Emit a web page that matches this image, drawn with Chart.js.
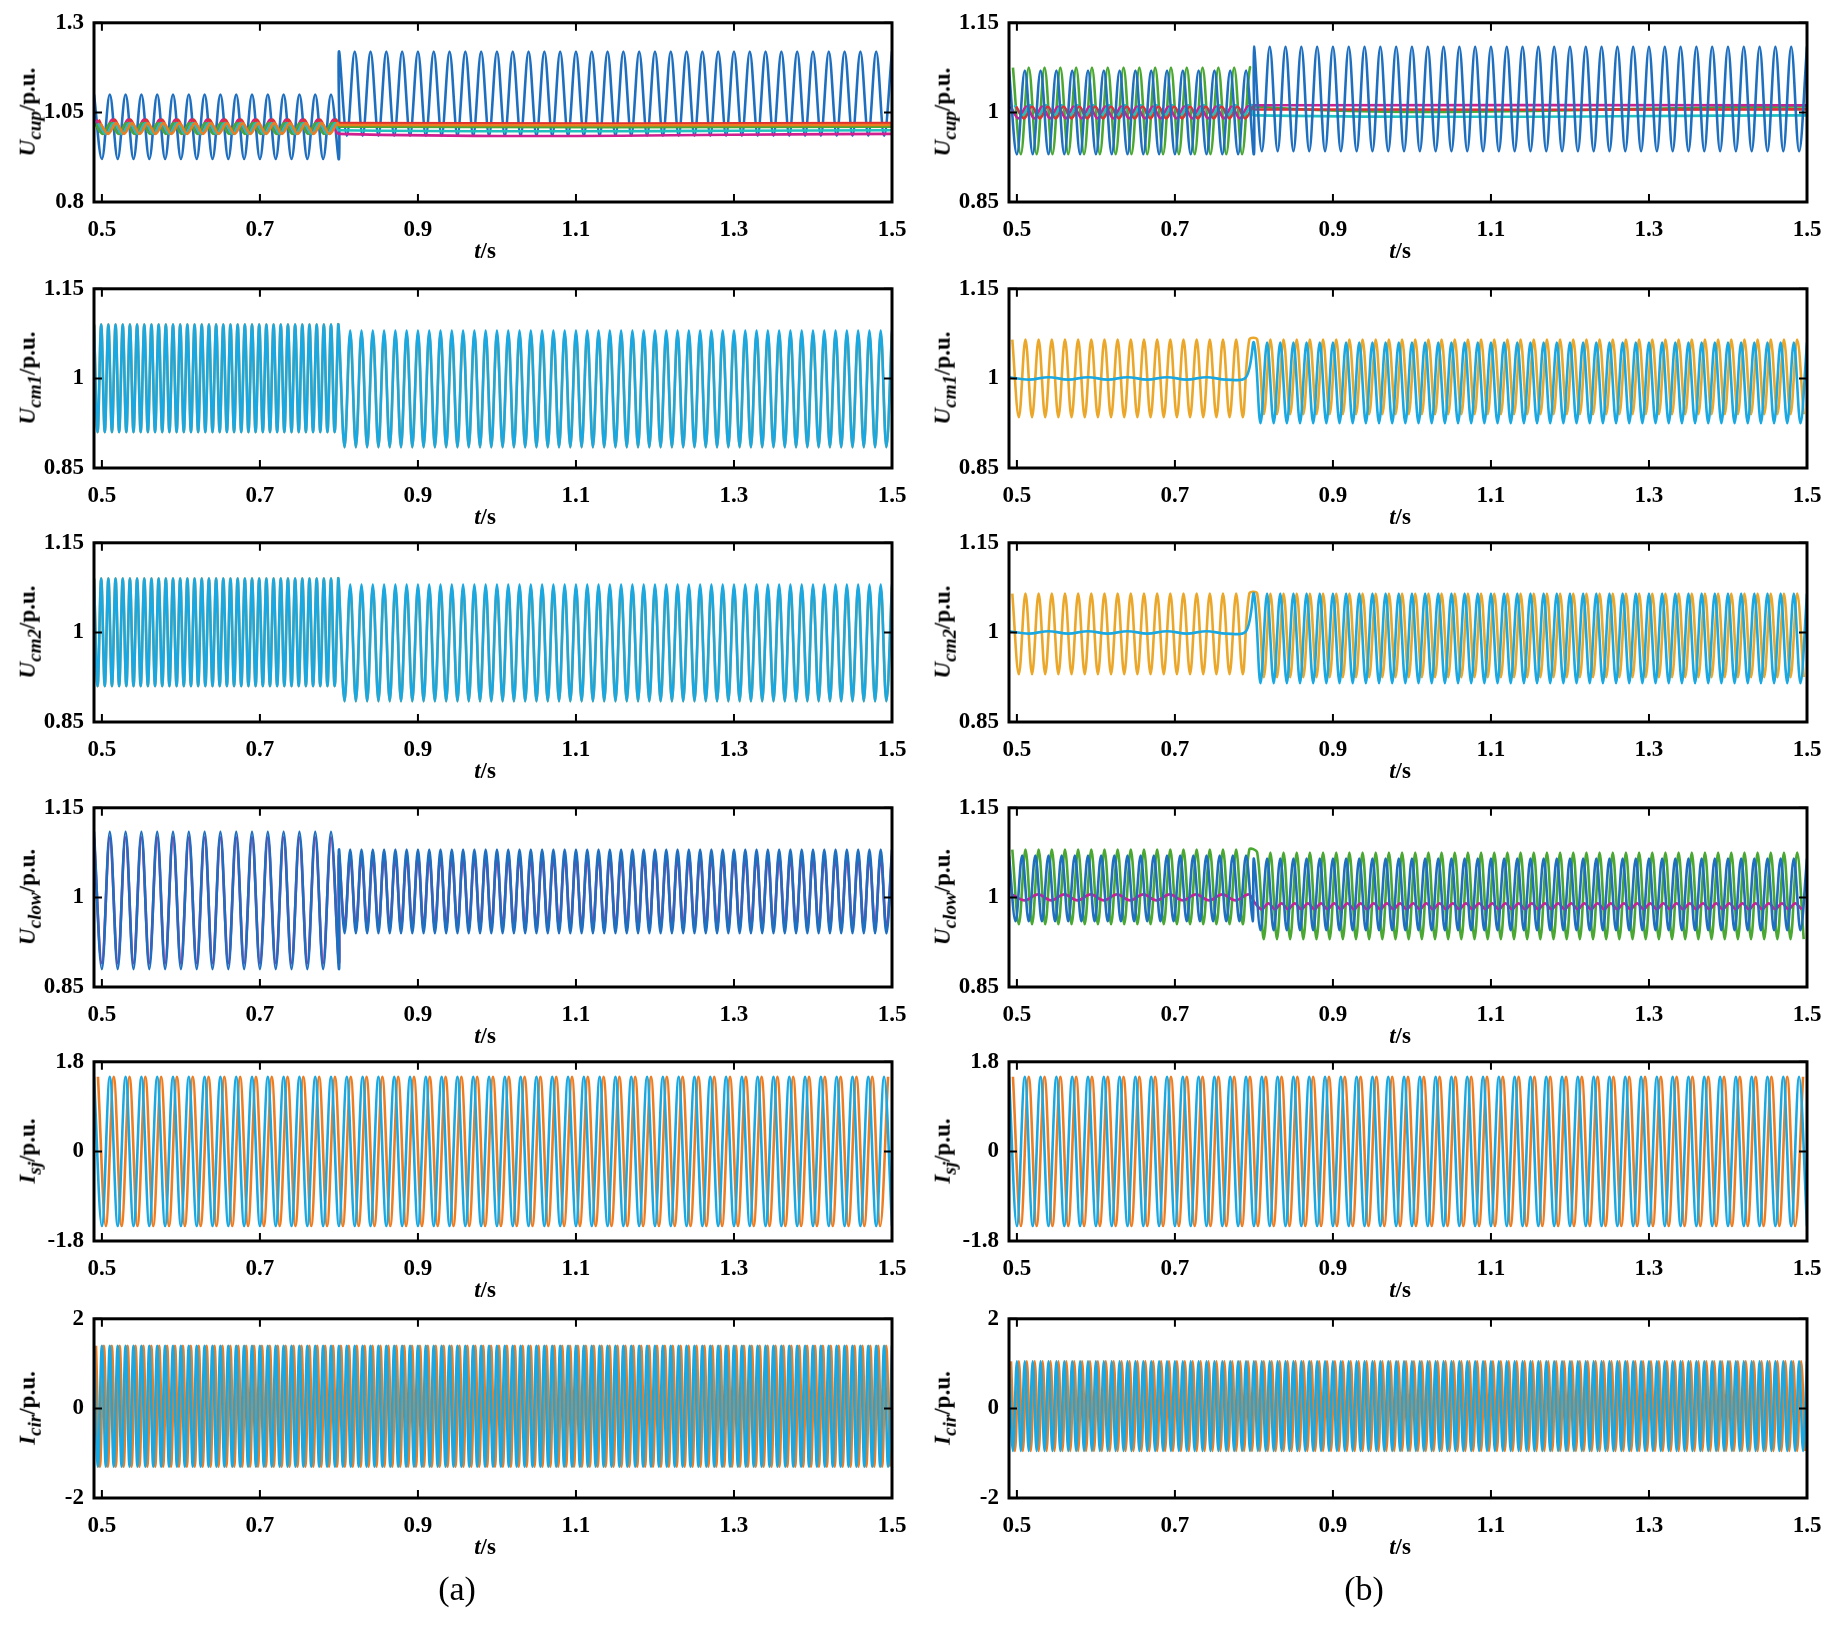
<!DOCTYPE html>
<html>
<head>
<meta charset="utf-8">
<script src="https://cdn.jsdelivr.net/npm/chart.js@4"></script>
<style>
  body { margin: 0; background: #fff; width: 1836px; height: 1633px; position: relative; overflow: hidden;
         font-family: "Liberation Serif", serif; }
  .box { position: absolute; }
  .ylab { position: absolute; transform: translate(-50%, -50%) rotate(-90deg); font-weight: bold; font-size: 23px; white-space: nowrap; }
  .xlab { position: absolute; transform: translateX(-50%); font-weight: bold; font-size: 23px; }
  .cap { position: absolute; transform: translateX(-50%); font-size: 34px; }
</style>
</head>
<body>
<script>
// time axis ticks and switching instant
const xTicks = [0.5, 0.7, 0.9, 1.1, 1.3, 1.5];
const tStart = 0.49, tSwitch = 0.8, tEnd = 1.5;

// colours
const BLUE = '#1f6fc0', CYAN = '#1aa8e2', ORANGE = '#eba72a', GREEN = '#4aa832',
      MAGENTA = '#d02090', RED = '#e03030', ORANGE2 = '#ee7d22', TEAL = '#20c0c0';

// panel labels, y ranges, y ticks
const yLabels = ['cup', 'cm1', 'cm2', 'clow', 'sj', 'cir'];
const yLetters = ['U', 'U', 'U', 'U', 'I', 'I'];
const yRangesA = [[0.8, 1.3], [0.85, 1.15], [0.85, 1.15], [0.85, 1.15], [-1.8, 1.8], [-2, 2]];
const yRangesB = [[0.85, 1.15], [0.85, 1.15], [0.85, 1.15], [0.85, 1.15], [-1.8, 1.8], [-2, 2]];
const yTicksA = [[0.8, 1.05, 1.3], [0.85, 1, 1.15], [0.85, 1, 1.15], [0.85, 1, 1.15], [-1.8, 0, 1.8], [-2, 0, 2]];
const yTicksB = [[0.85, 1, 1.15], [0.85, 1, 1.15], [0.85, 1, 1.15], [0.85, 1, 1.15], [-1.8, 0, 1.8], [-2, 0, 2]];

// waveform extremes read per segment: [peak, trough, oscillation Hz] before / after 0.8 s
// each entry: [colour, phase, before, after]; later entries are drawn on top
const seriesA = [
  [[BLUE, 0, [1.10, 0.92, 50], [1.22, 0.985, 50]],
   [MAGENTA, 0.3, [1.03, 0.99, 50], [0.99, 0.99, 0]], [RED, 0.6, [1.03, 0.99, 50], [1.02, 1.02, 0]],
   [GREEN, 0.1, [1.02, 0.99, 50], [1.01, 1.01, 0]], [TEAL, 0.5, [1.02, 0.99, 50], [1.0, 1.0, 0]],
   [ORANGE2, 0.8, [1.02, 0.99, 50], [1.015, 1.015, 0]]],
  [[ORANGE, 0, [1.09, 0.91, 110], [1.075, 0.885, 70]], [CYAN, 0, [1.09, 0.91, 110], [1.08, 0.885, 70]]],
  [[ORANGE, 0, [1.09, 0.91, 110], [1.075, 0.885, 70]], [CYAN, 0, [1.09, 0.91, 110], [1.08, 0.885, 70]]],
  [[MAGENTA, 0, [1.10, 0.89, 50], [1.07, 0.95, 70]], [BLUE, 0, [1.11, 0.88, 50], [1.08, 0.94, 70]]],
  [[ORANGE2, 0.5, [1.5, -1.5, 50], [1.5, -1.5, 50]], [CYAN, 0, [1.5, -1.5, 50], [1.5, -1.5, 50]]],
  [[ORANGE2, 0.5, [1.4, -1.3, 100], [1.4, -1.3, 100]], [CYAN, 0, [1.4, -1.3, 100], [1.4, -1.3, 100]]]
];
const seriesB = [
  [[GREEN, 0.5, [1.075, 0.93, 50], [1.01, 1.01, 0]], [MAGENTA, 0.2, [1.01, 0.99, 50], [1.012, 1.012, 0]],
   [TEAL, 0.7, [1.012, 0.995, 50], [0.995, 0.995, 0]], [RED, 0.9, [1.01, 0.99, 50], [1.005, 1.005, 0]],
   [BLUE, 0, [1.07, 0.93, 50], [1.11, 0.935, 50]]],
  [[ORANGE, 0.5, [1.065, 0.935, 60], [1.065, 0.94, 60]], [CYAN, 0, [1.002, 0.998, 20], [1.06, 0.925, 60]]],
  [[ORANGE, 0.5, [1.065, 0.93, 60], [1.065, 0.925, 60]], [CYAN, 0, [1.002, 0.998, 20], [1.065, 0.915, 60]]],
  [[GREEN, 0.5, [1.08, 0.955, 60], [1.075, 0.93, 60]], [MAGENTA, 0.2, [1.005, 0.995, 30], [0.99, 0.98, 60]],
   [BLUE, 0, [1.07, 0.96, 60], [1.065, 0.945, 60]]],
  [[ORANGE2, 0.5, [1.5, -1.5, 50], [1.5, -1.5, 50]], [CYAN, 0, [1.5, -1.5, 50], [1.5, -1.5, 50]]],
  [[ORANGE2, 0.5, [1.05, -0.95, 100], [1.05, -0.95, 100]], [CYAN, 0, [1.05, -0.95, 100], [1.05, -0.95, 100]]]
];

// layout
const colLeft = [94, 1009], plotW = 798, plotH = 181;
const rowTop = [21, 287, 541, 806, 1060, 1317];
const padL = 70, padB = 70, padT = 14, padR = 30;

// join the read peaks and troughs of one segment
function segPoints(t0, t1, seg, phase) {
  const [hi, lo, f] = seg;
  if (!f) return [{ x: t0, y: hi }, { x: t1, y: hi }];
  const pts = [];
  const half = 1 / (2 * f);
  for (let k = 0; ; k++) {
    const t = t0 + (k + phase) * half;
    if (t > t1) break;
    pts.push({ x: t, y: k % 2 === 0 ? hi : lo });
  }
  return pts;
}

function wavePoints(pre, post, phase) {
  // unchanged waveform: one continuous segment
  if (pre.join() === post.join()) return segPoints(tStart, tEnd, pre, phase);
  return segPoints(tStart, tSwitch, pre, phase).concat(segPoints(tSwitch, tEnd, post, phase));
}

const boxPlugin = {
  id: 'box',
  afterDraw(chart) {
    const { ctx, chartArea: a, scales } = chart;
    ctx.save();
    ctx.strokeStyle = '#000';
    ctx.lineWidth = 3;
    ctx.strokeRect(a.left, a.top, a.right - a.left, a.bottom - a.top);
    ctx.lineWidth = 2;
    ctx.beginPath();
    xTicks.forEach(v => {
      const x = scales.x.getPixelForValue(v);
      ctx.moveTo(x, a.bottom); ctx.lineTo(x, a.bottom - 8);
      ctx.moveTo(x, a.top); ctx.lineTo(x, a.top + 8);
    });
    chart.options.yTickVals.forEach(v => {
      const y = scales.y.getPixelForValue(v);
      ctx.moveTo(a.left, y); ctx.lineTo(a.left + 8, y);
      ctx.moveTo(a.right, y); ctx.lineTo(a.right - 8, y);
    });
    ctx.stroke();
    ctx.restore();
  }
};

function addDiv(cls, html, x, y) {
  const d = document.createElement('div');
  d.className = cls; d.innerHTML = html;
  d.style.left = x + 'px'; d.style.top = y + 'px';
  document.body.appendChild(d);
}

function makePanel(col, row, range, ticks, series) {
  const left = colLeft[col], top = rowTop[row];
  const wrap = document.createElement('div');
  wrap.className = 'box';
  wrap.style.left = (left - padL) + 'px';
  wrap.style.top = (top - padT) + 'px';
  wrap.style.width = (plotW + padL + padR) + 'px';
  wrap.style.height = (plotH + padT + padB) + 'px';
  const cv = document.createElement('canvas');
  wrap.appendChild(cv);
  document.body.appendChild(wrap);

  const datasets = series.map(([color, phase, pre, post], i) => ({
    data: wavePoints(pre, post, phase),
    order: series.length - i,
    borderColor: color, borderWidth: 2.6, pointRadius: 0, tension: 0.35, fill: false
  }));

  new Chart(cv, {
    type: 'line',
    data: { datasets },
    options: {
      responsive: true, maintainAspectRatio: false, animation: false,
      yTickVals: ticks,
      layout: { padding: { top: padT, right: padR, left: 0, bottom: 0 } },
      plugins: { legend: { display: false }, tooltip: { enabled: false } },
      scales: {
        x: {
          type: 'linear', min: tStart, max: tEnd,
          afterFit(s) { s.height = padB; },
          afterBuildTicks(s) { s.ticks = xTicks.map(v => ({ value: v })); },
          grid: { display: false }, border: { display: false },
          ticks: { color: '#000', font: { family: 'Liberation Serif', weight: 'bold', size: 23 }, padding: 6, maxRotation: 0,
                   callback: v => String(v) }
        },
        y: {
          min: range[0], max: range[1],
          afterFit(s) { s.width = padL; },
          afterBuildTicks(s) { s.ticks = ticks.map(v => ({ value: v })); },
          grid: { display: false }, border: { display: false },
          ticks: { color: '#000', font: { family: 'Liberation Serif', weight: 'bold', size: 23 }, padding: 2,
                   callback: v => String(v) }
        }
      }
    },
    plugins: [boxPlugin]
  });

  addDiv('xlab', '<i>t</i>/s', left + plotW * 0.49, top + plotH + 36);
  addDiv('ylab', '<i>' + yLetters[row] + '<sub>' + yLabels[row] + '</sub></i>/p.u.', left - 64, top + plotH / 2);
}

for (let r = 0; r < 6; r++) {
  makePanel(0, r, yRangesA[r], yTicksA[r], seriesA[r]);
  makePanel(1, r, yRangesB[r], yTicksB[r], seriesB[r]);
}
addDiv('cap', '(a)', 457, 1570);
addDiv('cap', '(b)', 1364, 1570);
</script>
</body>
</html>
